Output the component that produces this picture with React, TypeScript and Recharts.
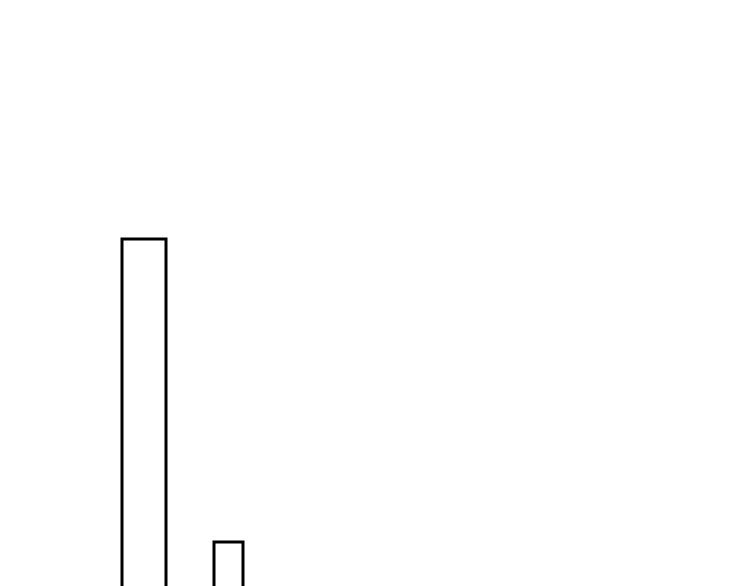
import React from "react";
import { BarChart, Bar, XAxis, YAxis } from "recharts";

// Data (baseline is below the visible area)
const categories = ["Group"];
const seriesA = [100];
const seriesB = [25];

const data = categories.map((c, i) => ({ category: c, a: seriesA[i], b: seriesB[i] }));

export default function App() {
  return (
    <div style={{ width: 750, background: "#ffffff" }}>
      <BarChart
        width={349}
        height={635}
        data={data}
        margin={{ top: 29, right: 0, bottom: 0, left: 0 }}
        barGap={48}
      >
        <XAxis dataKey="category" hide />
        <YAxis hide domain={[0, 150]} />
        <Bar dataKey="a" barSize={44} fill="#ffffff" stroke="#000000" strokeWidth={3} isAnimationActive={false} />
        <Bar dataKey="b" barSize={29} fill="#ffffff" stroke="#000000" strokeWidth={3} isAnimationActive={false} />
      </BarChart>
    </div>
  );
}
